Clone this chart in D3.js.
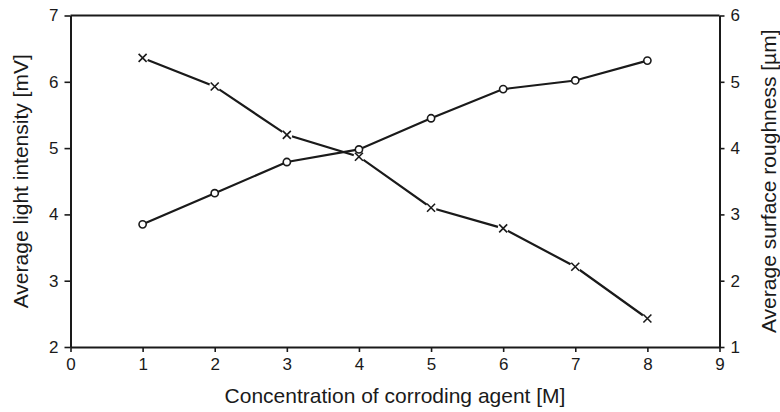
<!DOCTYPE html>
<html>
<head>
<meta charset="utf-8">
<script src="https://cdn.jsdelivr.net/npm/d3@7"></script>
<style>
  html, body { margin: 0; padding: 0; background: #fff; }
  svg { display: block; }
  text { font-family: "Liberation Sans", Arial, Helvetica, sans-serif; fill: #1a1a1a; }
</style>
</head>
<body>
<svg id="chart" width="780" height="412"></svg>
<script>
// Data
const concentration = [1, 2, 3, 4, 5, 6, 7, 8];
const lightIntensity = [6.36, 5.93, 5.20, 4.87, 4.10, 3.79, 3.21, 2.43];   // mV, left axis, x markers
const surfaceRoughness = [2.85, 3.32, 3.79, 3.98, 4.45, 4.89, 5.02, 5.32]; // µm, right axis, circle markers
const xTicks = [0, 1, 2, 3, 4, 5, 6, 7, 8, 9];
const yLeftTicks = [2, 3, 4, 5, 6, 7];
const yRightTicks = [1, 2, 3, 4, 5, 6];
const xTitle = "Concentration of corroding agent [M]";
const yLeftTitle = "Average light intensity [mV]";
const yRightTitle = "Average surface roughness [µm]";

const svg = d3.select("#chart");
const m = { left: 70.5, right: 719.5, top: 15.5, bottom: 347 };

const x = d3.scaleLinear().domain([0, 9]).range([m.left, m.right]);
const yL = d3.scaleLinear().domain([2, 7]).range([m.bottom, m.top]);
const yR = d3.scaleLinear().domain([1, 6]).range([m.bottom, m.top]);

const ink = "#1a1a1a";

// top border
svg.append("line")
  .attr("x1", m.left).attr("x2", m.right)
  .attr("y1", m.top).attr("y2", m.top)
  .attr("stroke", ink).attr("stroke-width", 2);

function styleAxis(g) {
  g.selectAll("path.domain").attr("stroke", ink).attr("stroke-width", 2);
  g.selectAll(".tick line").attr("stroke", ink).attr("stroke-width", 1.6);
  g.selectAll(".tick text").attr("font-size", 17).attr("fill", ink)
    .style("font-family", '"Liberation Sans", Arial, sans-serif');
}

svg.append("g")
  .attr("transform", `translate(0,${m.bottom})`)
  .call(d3.axisBottom(x).tickValues(xTicks).tickFormat(d3.format("d")).tickSize(5).tickSizeOuter(0).tickPadding(6))
  .call(styleAxis);

svg.append("g")
  .attr("transform", `translate(${m.left},0)`)
  .call(d3.axisLeft(yL).tickValues(yLeftTicks).tickFormat(d3.format("d")).tickSize(6).tickSizeOuter(0).tickPadding(6))
  .call(styleAxis);

svg.append("g")
  .attr("transform", `translate(${m.right},0)`)
  .call(d3.axisRight(yR).tickValues(yRightTicks).tickFormat(d3.format("d")).tickSize(5).tickSizeOuter(0).tickPadding(6))
  .call(styleAxis);

// Titles
svg.append("text")
  .attr("x", (m.left + m.right) / 2).attr("y", 403)
  .attr("text-anchor", "middle").attr("font-size", 21)
  .text(xTitle);

svg.append("text")
  .attr("transform", `translate(28,${(m.top + m.bottom) / 2}) rotate(-90)`)
  .attr("text-anchor", "middle").attr("font-size", 21)
  .text(yLeftTitle);

svg.append("text")
  .attr("transform", `translate(776,${(m.top + m.bottom) / 2}) rotate(-90)`)
  .attr("text-anchor", "middle").attr("font-size", 21)
  .text(yRightTitle);

// Lines
const lightData = concentration.map((c, i) => ({ x: c, y: lightIntensity[i] }));
const roughData = concentration.map((c, i) => ({ x: c, y: surfaceRoughness[i] }));

svg.append("path")
  .datum(lightData)
  .attr("fill", "none").attr("stroke", ink).attr("stroke-width", 2.2)
  .attr("d", d3.line().x(d => x(d.x)).y(d => yL(d.y)));

// white gaps behind x markers
svg.append("g").selectAll("circle")
  .data(lightData).join("circle")
  .attr("cx", d => x(d.x)).attr("cy", d => yL(d.y)).attr("r", 5.5)
  .attr("fill", "#fff");

// x markers
const s = 4;
svg.append("g").selectAll("path")
  .data(lightData).join("path")
  .attr("d", d => {
    const cx = x(d.x), cy = yL(d.y);
    return `M${cx - s},${cy - s}L${cx + s},${cy + s}M${cx - s},${cy + s}L${cx + s},${cy - s}`;
  })
  .attr("stroke", ink).attr("stroke-width", 1.6).attr("fill", "none");

svg.append("path")
  .datum(roughData)
  .attr("fill", "none").attr("stroke", ink).attr("stroke-width", 2.2)
  .attr("d", d3.line().x(d => x(d.x)).y(d => yR(d.y)));

// circle markers
svg.append("g").selectAll("circle")
  .data(roughData).join("circle")
  .attr("cx", d => x(d.x)).attr("cy", d => yR(d.y)).attr("r", 3.6)
  .attr("fill", "#fff").attr("stroke", ink).attr("stroke-width", 1.6);
</script>
</body>
</html>
